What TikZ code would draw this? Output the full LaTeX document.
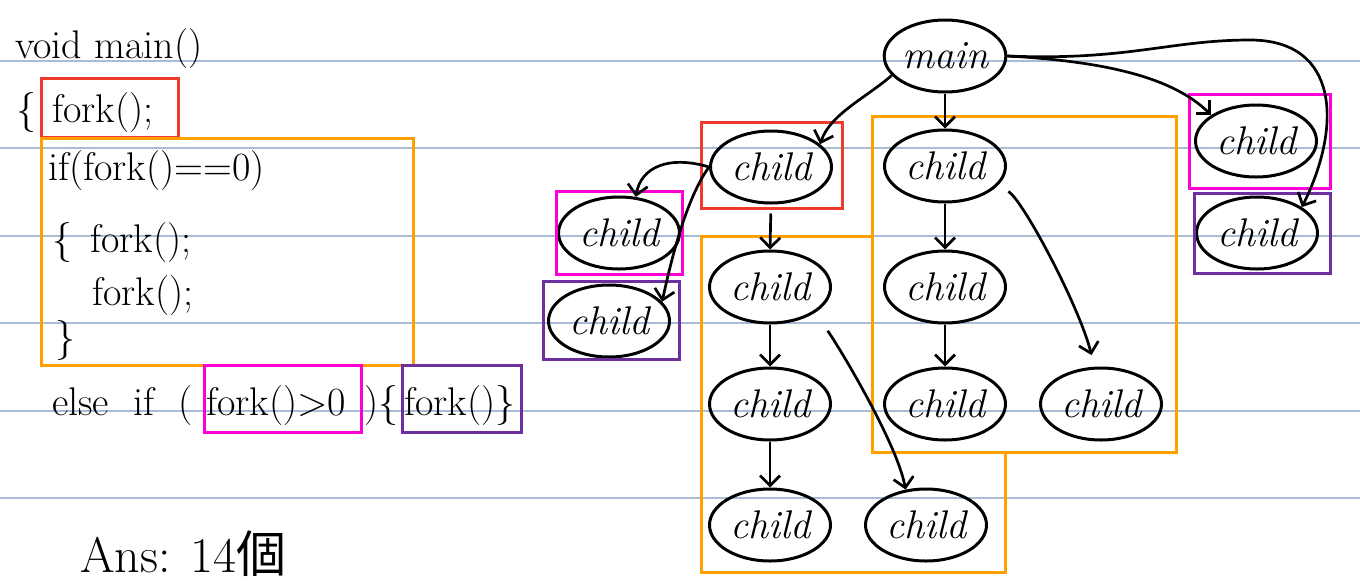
\documentclass[tikz,border=0pt]{standalone}
\usepackage{fontspec}
\newfontfamily\cjk{Noto Sans CJK TC}
\usetikzlibrary{shapes.geometric,arrows.meta}

\definecolor{ruled}{HTML}{A9BCD6}
\definecolor{boxred}{HTML}{EE3B2B}
\definecolor{boxorange}{HTML}{FF9F00}
\definecolor{boxpink}{HTML}{FF00D4}
\definecolor{boxpurple}{HTML}{6B2FA0}

\begin{document}
\begin{tikzpicture}[x=1pt,y=-1pt,>={Straight Barb[length=10pt,width=20pt]},
        proc/.style={draw,ellipse,line width=3pt,minimum width=121pt,minimum height=72pt,inner sep=0pt,
          font=\fontsize{40}{42}\selectfont\itshape},
        code/.style={anchor=base west,inner sep=0pt,font=\fontsize{40}{42}\selectfont},
        link/.style={->,line width=2.7pt},
        frame/.style={line width=3pt}]
        \useasboundingbox[fill=white] (0,0) rectangle (1360,584);

        % ruled paper
        \foreach \y in {61,148,236,323,411,498}
          \draw[ruled,line width=1.6pt] (0,\y) -- (1360,\y);

        % code
        \node[code] (L1) at (15,58) {void main()};
        \node[code] (L2a) at (16,122) {\{};
        \node[code] (L2b) at (52,122) {fork();};
        \node[code] (L3) at (48,180) {if(fork()==0)};
        \node[code] (L4a) at (52,252) {\{};
        \node[code] (L4b) at (90,252) {fork();};
        \node[code] (L5) at (92,305) {fork();};
        \node[code] (L6) at (55,350) {\}};
        \node[code] (L7a) at (52,415) {else\ \ if\ \ (};
        \node[code] (L7b) at (206,415) {fork()>0};
        \node[code] (L7c) at (364,415) {)\{};
        \node[code] (L7d) at (404,415) {fork()\}};
        \node[code,font=\fontsize{50}{52}\selectfont] (ans) at (80,572) {Ans: 14{\cjk 個}};

        \draw[frame,boxred] (41,78) rectangle (178,137);
        \draw[frame,boxorange] (41,138) rectangle (413,365);
        \draw[frame,boxpink] (204,365) rectangle (361,432);
        \draw[frame,boxpurple] (402,365) rectangle (521,432);

        % process tree
        \node[proc] (main) at (945,56) {main};
        \node[proc] (c1) at (771,167) {child};
        \node[proc] (c2) at (619,233) {child};
        \node[proc] (c3) at (609,321) {child};
        \node[proc] (c4) at (770,287) {child};
        \node[proc] (c5) at (770,404) {child};
        \node[proc] (c6) at (770,525) {child};
        \node[proc] (c7) at (926,525) {child};
        \node[proc] (c8) at (945,166) {child};
        \node[proc] (c9) at (945,287) {child};
        \node[proc] (c10) at (945,404) {child};
        \node[proc] (c11) at (1101,404) {child};
        \node[proc] (c12) at (1256,141) {child};
        \node[proc] (c13) at (1257,233) {child};

        \draw[frame,boxred] (701,122) rectangle (842,208);
        \draw[frame,boxpink] (556,191) rectangle (682,274);
        \draw[frame,boxpurple] (543,281) rectangle (679,359);
        \draw[frame,boxpink] (1189,94) rectangle (1330,188);
        \draw[frame,boxpurple] (1194,193) rectangle (1330,273);
        \draw[frame,boxorange] (872,116) rectangle (1176,452);
        \draw[frame,boxorange] (701,236) -- (872,236) -- (872,452) -- (1005,452) -- (1005,572) -- (701,572) -- cycle;

        \coordinate (loop) at (1250,40);

        \draw[link] (main.200) .. controls +(-25,22) and +(10,-30) .. (c1.25);
        \draw[link] (main.south) -- (c8.north);
        \draw[link] (main.east) .. controls +(90,5) and +(-40,-40) .. (c12.150);
        \draw[link] (main.east) .. controls +(120,5) and +(-80,0) .. (loop)
              .. controls +(90,0) and +(40,-80) .. (c13.30);
        \draw[link] (c1.west) .. controls +(-40,-12) and +(5,-30) .. (c2.65);
        \draw[link] (c1.west) .. controls +(-18,25) and +(14,-65) .. (c3.20);
        \draw[link,shorten <=9pt] (c1.south) -- (c4.north);
        \draw[link] (c4.south) -- (c5.north);
        \draw[link] (c5.south) -- (c6.north);
        \draw[link,shorten <=22pt] (c4.-30) .. controls +(25,35) and +(-8,-45) .. (c7.120);
        \draw[link] (c8.south) -- (c9.north);
        \draw[link] (c9.south) -- (c10.north);
        \draw[link,shorten <=12pt,shorten >=12pt] (c8.-20) .. controls +(25,15) and +(-15,-60) .. (c11.100);
\end{tikzpicture}
\end{document}
